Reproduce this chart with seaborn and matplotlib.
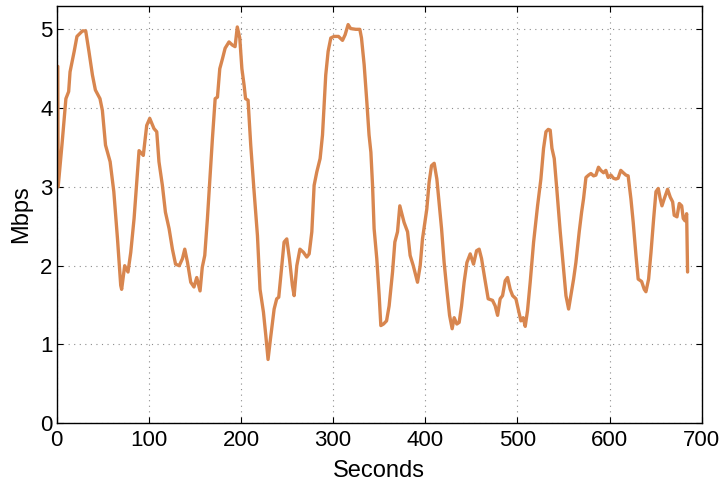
"""Throughput trace over time (Mbps vs seconds)."""

import matplotlib
import pandas as pd
import seaborn as sns

matplotlib.use("Agg")
import matplotlib.pyplot as plt

# ── Data ─────────────────────────────────────────────────────────────────────
seconds = [
    1.2, 1.6, 6, 10, 13, 14.5, 19, 22, 28, 31.5, 35, 38.8, 42, 47, 49.6, 53, 58, 62,
    66, 69.5, 70.5, 73.8, 77.4, 80.4, 84, 89.4, 94, 97.7, 101, 105.6, 108.6, 111,
    114.7, 118, 122, 125.6, 129, 133, 136.5, 139, 142, 145.5, 149, 152, 155.6,
    158, 160.7, 163.6, 166.5, 169, 172, 174.5, 177, 180, 182.8, 187, 190.7, 193.6,
    196, 198.7, 201, 203.4, 205, 207.7, 210.6, 214, 217.9, 220.7, 224.4, 227,
    229.4, 232, 236, 238.8, 241, 244.3, 246.8, 249.7, 252.6, 255.8, 257.7, 260.6,
    264, 267.8, 271.4, 274, 276.9, 279.4, 282.3, 285.9, 288.5, 290.2, 292, 294.6,
    297.5, 301, 305.8, 310.2, 313, 316.3, 319, 324.6, 329, 330.8, 333.7, 336.6,
    339, 341, 342.8, 344.5, 347.4, 350, 351.8, 354.7, 358, 360.8, 364.5, 367,
    369.9, 372.4, 374.6, 377, 380.8, 383.6, 387, 391.6, 394.5, 397, 399.6, 401.7,
    404.2, 406.8, 409.7, 412.6, 415, 417.7, 420.5, 423.4, 426.4, 429.2, 431.4,
    434.3, 436.8, 439.4, 442.2, 445.2, 448.8, 452.4, 455.7, 458.5, 461.1, 464.7,
    468.3, 473, 475.9, 478.5, 481.3, 483.9, 486.8, 489.3, 492.2, 494.8, 498.4,
    500.9, 503.8, 506.3, 508.5, 511, 513.9, 517.6, 521.9, 525.5, 528.4, 531,
    533.5, 535.6, 537.5, 540, 543, 546.5, 549.8, 552.7, 555.6, 558, 561, 563.5,
    567.1, 569.7, 571.8, 574.4, 577.3, 579.8, 582.7, 585.2, 588, 590.5, 593.5,
    596, 598.5, 601.5, 604.3, 606.8, 609.3, 612.2, 614.9, 617.8, 620.2, 623.2,
    625.7, 628.7, 631.1, 634.8, 637.7, 639.5, 642.4, 645, 647.9, 650.4, 652.9,
    655, 656.9, 659.4, 663, 665.9, 668.5, 670.2, 673.2, 675.7, 678.3, 680, 681.9,
    683.7, 684.7,
]
mbps = [
    4.53, 3.0, 3.57, 4.12, 4.21, 4.46, 4.72, 4.91, 4.98, 4.98, 4.72, 4.42, 4.23,
    4.12, 3.97, 3.53, 3.32, 2.94, 2.34, 1.75, 1.70, 2.0, 1.92, 2.17, 2.6, 3.46,
    3.40, 3.78, 3.87, 3.74, 3.70, 3.32, 3.02, 2.68, 2.47, 2.21, 2.02, 2.0, 2.09,
    2.21, 2.04, 1.79, 1.73, 1.85, 1.68, 1.98, 2.13, 2.6, 3.15, 3.61, 4.12, 4.14,
    4.5, 4.63, 4.76, 4.84, 4.80, 4.78, 5.03, 4.89, 4.5, 4.29, 4.12, 4.10, 3.53,
    2.98, 2.38, 1.70, 1.41, 1.11, 0.81, 1.07, 1.45, 1.58, 1.60, 2.0, 2.30, 2.34,
    2.09, 1.75, 1.62, 2.0, 2.21, 2.17, 2.11, 2.15, 2.43, 3.02, 3.19, 3.36, 3.66,
    4.04, 4.42, 4.72, 4.89, 4.91, 4.91, 4.86, 4.93, 5.06, 5.01, 5.0, 5.0, 4.89,
    4.55, 4.08, 3.66, 3.44, 3.02, 2.47, 2.09, 1.62, 1.24, 1.26, 1.30, 1.49, 1.92,
    2.30, 2.43, 2.76, 2.66, 2.55, 2.43, 2.13, 2.0, 1.79, 2.0, 2.34, 2.55, 2.72,
    3.06, 3.27, 3.30, 3.10, 2.81, 2.47, 2.04, 1.70, 1.37, 1.20, 1.34, 1.26, 1.28,
    1.49, 1.79, 2.04, 2.15, 2.02, 2.19, 2.21, 2.09, 1.83, 1.58, 1.56, 1.49, 1.37,
    1.58, 1.62, 1.81, 1.85, 1.70, 1.62, 1.58, 1.45, 1.30, 1.34, 1.23, 1.43, 1.79,
    2.30, 2.76, 3.10, 3.49, 3.70, 3.73, 3.72, 3.49, 3.36, 2.94, 2.43, 2.0, 1.62,
    1.45, 1.62, 1.83, 2.04, 2.43, 2.68, 2.85, 3.12, 3.15, 3.17, 3.14, 3.15, 3.25,
    3.21, 3.18, 3.21, 3.12, 3.15, 3.11, 3.10, 3.11, 3.21, 3.18, 3.15, 3.14, 2.85,
    2.55, 2.13, 1.83, 1.80, 1.70, 1.67, 1.83, 2.17, 2.6, 2.94, 2.98, 2.85, 2.76,
    2.85, 2.97, 2.87, 2.81, 2.64, 2.62, 2.79, 2.76, 2.6, 2.57, 2.66, 1.92,
]
x_ticks = [0, 100, 200, 300, 400, 500, 600, 700]
y_ticks = [0, 1, 2, 3, 4, 5]


def main() -> None:
    sns.set_theme(style="ticks")
    plt.rcParams["font.family"] = ["Liberation Sans", "DejaVu Sans"]
    plt.rcParams["axes.labelcolor"] = "black"
    plt.rcParams["text.color"] = "black"

    df = pd.DataFrame({"Seconds": seconds, "Mbps": mbps})

    fig = plt.figure(figsize=(7.23, 4.82), dpi=100)
    ax = fig.add_axes([0.0784, 0.1218, 0.8921, 0.8664])

    sns.lineplot(
        data=df, x="Seconds", y="Mbps", sort=False, estimator=None,
        color="#d8864f", linewidth=2.4, ax=ax,
    )

    ax.set_xlim(0, 700)
    ax.set_ylim(0, 5.3)
    ax.set_xticks(x_ticks)
    ax.set_yticks(y_ticks)
    ax.grid(True, linestyle=(0, (1, 4)), color="0.55", linewidth=0.8)
    ax.tick_params(direction="in", top=True, right=True, length=4,
                   width=0.8, labelsize=16, colors="black")
    ax.tick_params(axis="x", pad=5)
    ax.tick_params(axis="y", pad=3)
    for spine in ax.spines.values():
        spine.set_visible(True)
        spine.set_color("black")
        spine.set_linewidth(1.0)
    ax.set_xlabel("Seconds", fontsize=17, labelpad=6, color="black")
    ax.set_ylabel("Mbps", fontsize=17, labelpad=6, color="black")

    fig.savefig("out.png", dpi=100)
    plt.close(fig)


if __name__ == "__main__":
    main()
